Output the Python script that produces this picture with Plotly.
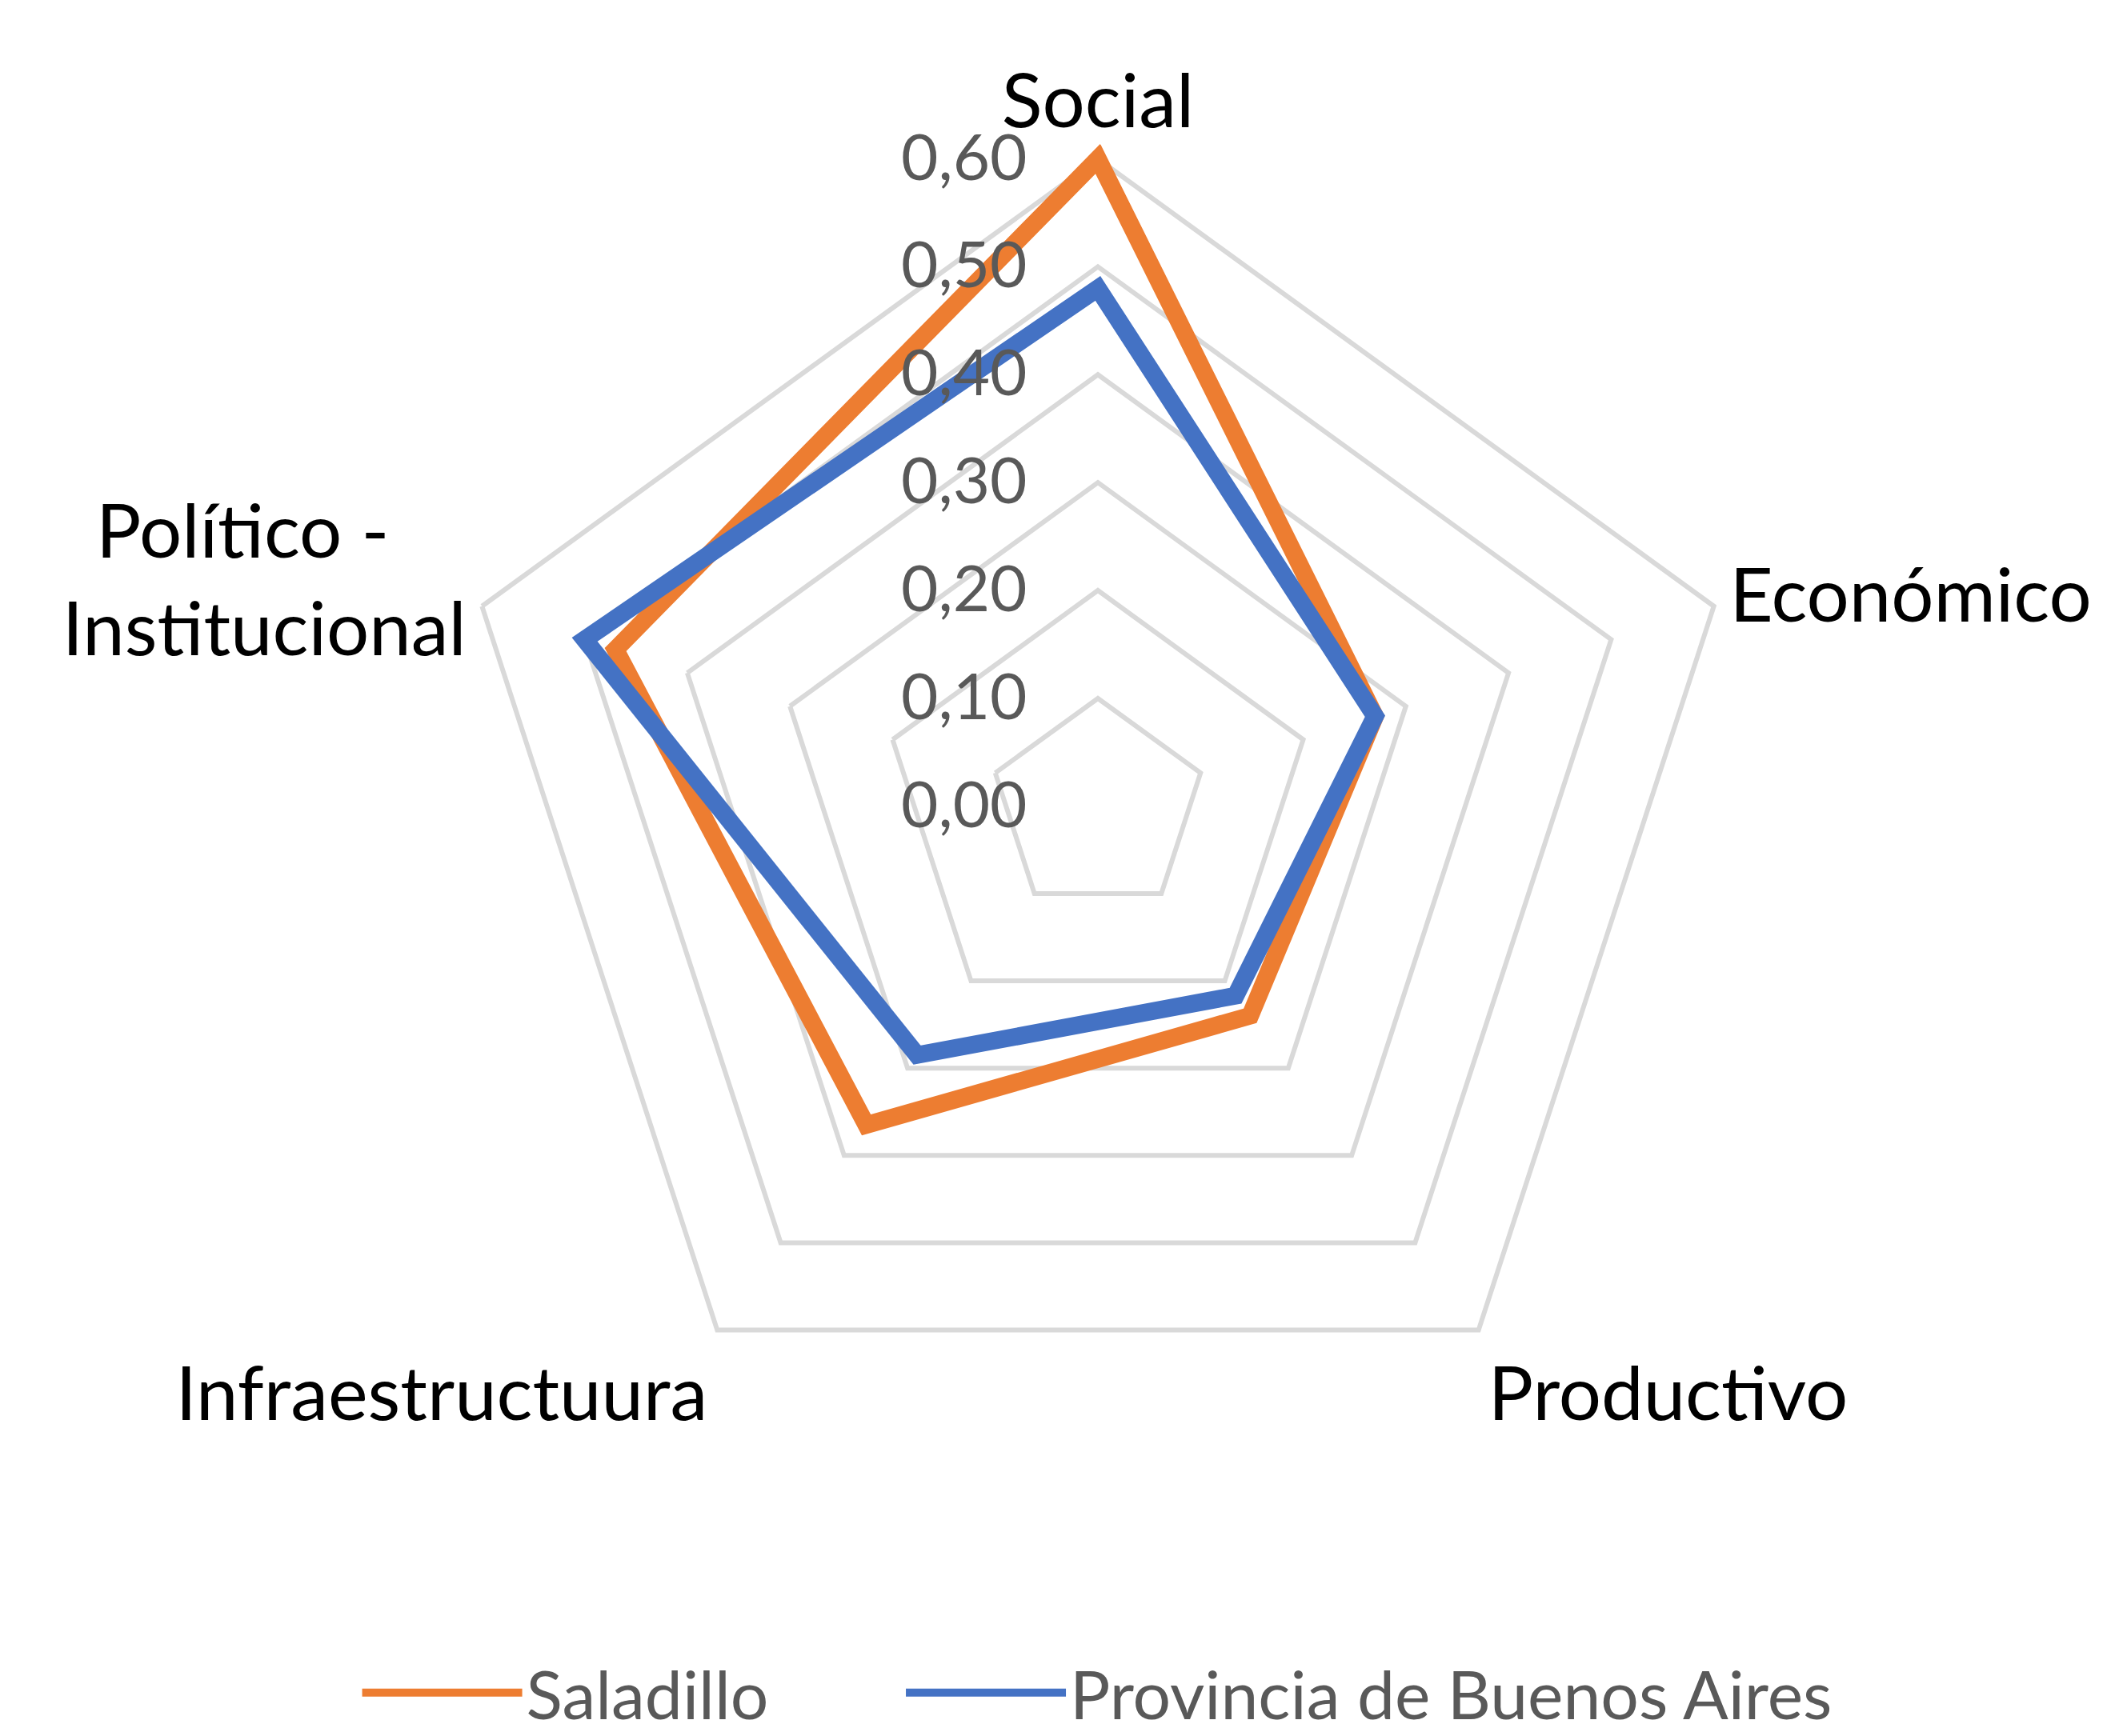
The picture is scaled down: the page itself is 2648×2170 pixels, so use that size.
import plotly.graph_objects as go

categories = [
    "Social",
    "Económico",
    "Productivo",
    "Infraestructuura",
    "Político -\u00a0\u00a0\u00a0\u00a0<br>Institucional",
]
saladillo = [0.60, 0.27, 0.24, 0.365, 0.47]
provincia = [0.48, 0.27, 0.217, 0.285, 0.50]
radial_ticks = [0.0, 0.1, 0.2, 0.3, 0.4, 0.5, 0.6]

ORANGE = "#ED7D31"
BLUE = "#4472C4"
GRID = "#D9D9D9"
FONT = "Lato"


def closed(values):
    # run past the first point again so the top corner gets a proper join
    return values + values[:2]


fig = go.Figure()
fig.add_trace(go.Scatterpolar(
    r=closed(saladillo),
    theta=closed(categories),
    mode="lines",
    name="Saladillo",
    line=dict(color=ORANGE, width=22),
    legend="legend",
    showlegend=True,
))
fig.add_trace(go.Scatterpolar(
    r=closed(provincia),
    theta=closed(categories),
    mode="lines",
    name="Provincia de Buenos Aires",
    line=dict(color=BLUE, width=22),
    legend="legend2",
    showlegend=True,
))

legend_style = dict(
    orientation="h",
    xanchor="left",
    y=0.006,
    yanchor="middle",
    font=dict(family=FONT, size=84, color="#595959"),
    itemwidth=200,
    bgcolor="rgba(0,0,0,0)",
)

# range goes a touch past 0.60 so the thick lines at the top are not clipped;
# the outer pentagon is the 0.60 grid line
fig.update_layout(
    width=2648,
    height=2170,
    autosize=False,
    showlegend=True,
    margin=dict(l=0, r=0, t=0, b=0),
    paper_bgcolor="white",
    separators=",.",
    font=dict(family=FONT, color="#595959"),
    polar=dict(
        domain=dict(x=[0.1946, 0.8356], y=[0.1375, 0.9197]),
        bgcolor="white",
        gridshape="linear",
        angularaxis=dict(
            rotation=90,
            direction="clockwise",
            showgrid=False,
            showline=False,
            ticks="",
            tickfont=dict(family=FONT, size=94, color="black"),
        ),
        radialaxis=dict(
            range=[0, 0.615],
            tickvals=radial_ticks,
            tickformat=".2f",
            angle=90,
            tickangle=90,
            side="counterclockwise",
            showline=False,
            gridcolor=GRID,
            gridwidth=6,
            ticks="outside",
            ticklen=60,
            tickcolor="rgba(0,0,0,0)",
            tickfont=dict(family=FONT, size=80, color="#595959"),
        ),
    ),
    legend=dict(legend_style, x=0.166),
    legend2=dict(legend_style, x=0.4226),
)

fig.write_html("out.html")
